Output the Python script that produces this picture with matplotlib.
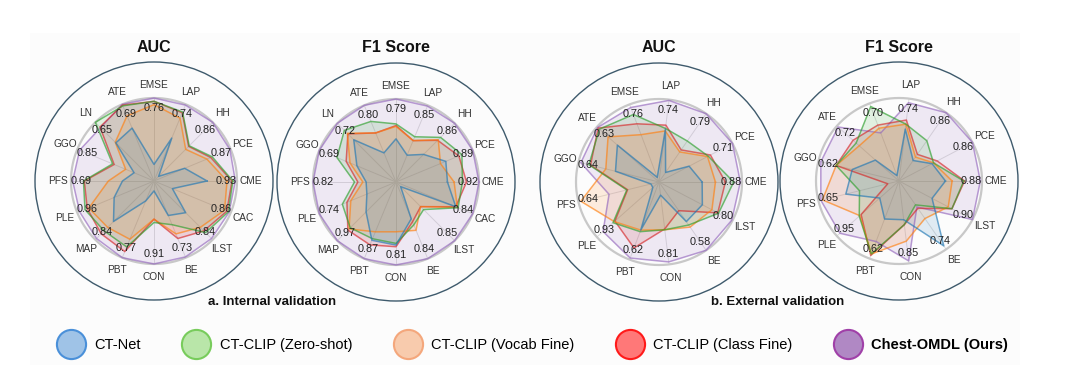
import numpy as np
import matplotlib
matplotlib.use("Agg")
import matplotlib.pyplot as plt
from matplotlib.lines import Line2D
from matplotlib.patches import Rectangle, Ellipse

plt.rcParams['font.family'] = ['Liberation Sans', 'DejaVu Sans']

# ---------------- data ----------------
int_cats = ['CME', 'PCE', 'HH', 'LAP', 'EMSE', 'ATE', 'LN', 'GGO', 'PFS', 'PLE',
            'MAP', 'PBT', 'CON', 'BE', 'ILST', 'CAC']
ext_cats = ['CME', 'PCE', 'HH', 'LAP', 'EMSE', 'ATE', 'GGO', 'PFS', 'PLE', 'PBT',
            'CON', 'BE', 'ILST']

models = ['CT-Net', 'CT-CLIP (Zero-shot)', 'CT-CLIP (Vocab Fine)',
          'CT-CLIP (Class Fine)', 'Chest-OMDL (Ours)']

# (a) internal AUC
int_auc_labels = [0.93, 0.87, 0.86, 0.74, 0.76, 0.69, 0.65, 0.85, 0.69, 0.96, 0.84, 0.77, 0.91, 0.73, 0.84, 0.86]
int_auc_ctnet = [0.64, 0.40, 0.08, 0.56, 0.20, 0.69, 0.65, 0.26, 0.38, 0.52, 0.69, 0.26, 0.12, 0.45, 0.54, 0.24]
int_auc_zero = [0.95, 0.76, 0.60, 0.90, 0.96, 0.98, 1.00, 0.54, 0.85, 0.90, 0.85, 0.86, 0.50, 0.57, 0.88, 0.97]
int_auc_vocab = [0.88, 0.69, 0.54, 0.82, 0.92, 0.85, 0.66, 0.37, 0.55, 0.85, 0.79, 0.76, 0.46, 0.69, 0.79, 0.92]
int_auc_class = [0.94, 0.74, 0.59, 0.89, 0.96, 0.99, 0.92, 0.52, 0.84, 0.87, 0.90, 0.92, 0.46, 0.75, 0.85, 0.95]
int_auc_ours = [0.98, 0.99, 1.00, 0.99, 1.00, 1.00, 0.91, 0.97, 0.98, 0.97, 0.98, 1.00, 1.00, 0.99, 0.98, 0.98]

# (a) internal F1
int_f1_labels = [0.92, 0.89, 0.86, 0.85, 0.79, 0.80, 0.72, 0.69, 0.82, 0.74, 0.97, 0.87, 0.81, 0.84, 0.85, 0.84]
int_f1_ctnet = [0.62, 0.65, 0.47, 0.35, 0.52, 0.38, 0.72, 0.51, 0.36, 0.38, 0.51, 0.76, 0.76, 0.48, 0.08, 0.78]
int_f1_zero = [0.80, 0.86, 0.76, 0.59, 0.70, 0.79, 0.88, 0.77, 0.50, 0.70, 0.78, 0.74, 0.74, 0.56, 0.47, 0.81]
int_f1_vocab = [0.70, 0.58, 0.72, 0.54, 0.67, 0.64, 0.83, 0.60, 0.40, 0.59, 0.80, 0.65, 0.60, 0.63, 0.42, 0.80]
int_f1_class = [0.85, 0.82, 0.71, 0.54, 0.68, 0.64, 0.82, 0.65, 0.46, 0.64, 0.82, 0.82, 0.78, 0.52, 0.42, 0.78]
int_f1_ours = [1.00, 1.00, 1.00, 0.99, 1.00, 1.00, 1.00, 1.00, 1.00, 1.00, 1.00, 1.00, 1.00, 1.00, 1.00, 1.00]

# (b) external AUC
ext_auc_labels = [0.88, 0.71, 0.79, 0.74, 0.76, 0.63, 0.64, 0.64, 0.93, 0.62, 0.81, 0.58, 0.80]
ext_auc_ctnet = [0.52, 0.41, 0.14, 0.64, 0.06, 0.67, 0.54, 0.10, 0.10, 0.62, 0.16, 0.58, 0.59]
ext_auc_zero = [0.90, 0.67, 0.60, 0.65, 0.87, 0.96, 0.87, 0.40, 0.74, 0.64, 0.58, 0.63, 0.81]
ext_auc_vocab = [0.68, 0.66, 0.44, 0.62, 0.61, 0.82, 0.66, 0.97, 0.72, 0.62, 0.58, 0.66, 0.72]
ext_auc_class = [0.80, 0.70, 0.47, 0.69, 0.75, 0.98, 0.85, 0.39, 0.71, 0.85, 0.57, 0.42, 0.80]
ext_auc_ours = [0.98, 1.00, 1.00, 0.99, 0.96, 0.99, 0.97, 0.62, 0.90, 0.98, 0.97, 1.00, 0.99]

# (b) external F1
ext_f1_labels = [0.88, 0.86, 0.86, 0.74, 0.70, 0.72, 0.62, 0.65, 0.95, 0.62, 0.85, 0.74, 0.90]
ext_f1_ctnet = [0.56, 0.45, 0.30, 0.63, 0.07, 0.38, 0.58, 0.66, 0.31, 0.49, 0.47, 0.95, 0.45]
ext_f1_zero = [0.78, 0.47, 0.59, 0.69, 0.96, 0.69, 0.78, 0.49, 0.64, 0.94, 0.53, 0.35, 0.72]
ext_f1_vocab = [0.64, 0.47, 0.35, 0.69, 0.68, 0.64, 0.78, 0.95, 0.63, 0.94, 0.73, 0.55, 0.67]
ext_f1_class = [0.79, 0.52, 0.39, 0.74, 0.72, 0.74, 0.78, 0.14, 0.61, 0.96, 0.53, 0.40, 0.72]
ext_f1_ours = [0.98, 1.00, 1.00, 0.95, 0.62, 0.98, 0.97, 0.97, 0.95, 0.78, 0.97, 0.38, 1.00]

line_colors = ['#1f77b4', '#2ca02c', '#ff7f0e', '#d62728', '#9467bd']
leg_face = ['#9fc3e7', '#b9e6a9', '#f8cbad', '#ff7878', '#b088c4']
leg_edge = ['#4a90d9', '#78cc5c', '#f4a77c', '#ff1a1a', '#a040a8']

panels = [
    dict(title='AUC', cx=154, cy=181, cats=int_cats, labels=int_auc_labels,
         series=[int_auc_ctnet, int_auc_zero, int_auc_vocab, int_auc_class, int_auc_ours]),
    dict(title='F1 Score', cx=396, cy=182, cats=int_cats, labels=int_f1_labels,
         series=[int_f1_ctnet, int_f1_zero, int_f1_vocab, int_f1_class, int_f1_ours]),
    dict(title='AUC', cx=659, cy=182, cats=ext_cats, labels=ext_auc_labels,
         series=[ext_auc_ctnet, ext_auc_zero, ext_auc_vocab, ext_auc_class, ext_auc_ours]),
    dict(title='F1 Score', cx=899, cy=181, cats=ext_cats, labels=ext_f1_labels,
         series=[ext_f1_ctnet, ext_f1_zero, ext_f1_vocab, ext_f1_class, ext_f1_ours]),
]

W, H = 1080, 372
fig = plt.figure(figsize=(W / 100, H / 100), dpi=100)
fig.patch.set_facecolor('white')
fig.patches.append(Rectangle((30 / W, 7 / H), 990 / W, 332 / H, transform=fig.transFigure,
                             facecolor='#fcfcfc', edgecolor='none', zorder=-10))

R_GRID = 83.0
R_OUT = 119.0
rmax = R_OUT / R_GRID

for p in panels:
    cx, cy = p['cx'], p['cy']
    # outer dark circle
    fig.patches.append(Ellipse((cx / W, 1 - cy / H), 2 * R_OUT / W, 2 * R_OUT / H,
                               transform=fig.transFigure, facecolor='none',
                               edgecolor='#3e5a6c', lw=1.0, zorder=-5))
    ax = fig.add_axes([(cx - R_OUT) / W, (H - cy - R_OUT) / H, 2 * R_OUT / W, 2 * R_OUT / H],
                      projection='polar')
    ax.set_ylim(0, rmax)
    ax.set_axis_off()

    n = len(p['cats'])
    ang = np.linspace(0, 2 * np.pi, n, endpoint=False)
    # spokes and reference ring
    for a in ang:
        ax.plot([a, a], [0, 1.0], color='#dcdcdc', lw=0.7, zorder=1)
    tt = np.linspace(0, 2 * np.pi, 721)
    ax.plot(tt, np.ones_like(tt), color='#c8c8c8', lw=1.6, zorder=1)

    closed = np.append(ang, ang[0])
    order = [4, 3, 2, 1, 0]
    for i in order:
        vals = np.array(p['series'][i], dtype=float)
        v = np.append(vals, vals[0])
        ax.fill(closed, v, color=line_colors[i], alpha=0.13, zorder=2 + (4 - i) * 0.1, lw=0)
        ax.plot(closed, v, color=line_colors[i], alpha=0.65, lw=1.1, zorder=3 + (4 - i) * 0.1)

    for a, c, lab in zip(ang, p['cats'], p['labels']):
        ax.text(a, 1.16, c, ha='center', va='center', fontsize=7.3, color='#333333', zorder=6)
        ax.text(a, 0.875, f'{lab:.2f}', ha='center', va='center', fontsize=7.8,
                color='#222222', zorder=6)

    fig.text(cx / W, 1 - 47 / H, p['title'], ha='center', va='center',
             fontsize=11.5, fontweight='bold', color='#111111')

fig.text(272 / W, 1 - 302 / H, 'a. Internal validation', ha='center', va='center',
         fontsize=9.5, fontweight='bold', color='#111111')
fig.text(778 / W, 1 - 302 / H, 'b. External validation', ha='center', va='center',
         fontsize=9.5, fontweight='bold', color='#111111')

handles = [Line2D([], [], ls='', marker='o', markersize=21, markerfacecolor=leg_face[i],
                  markeredgecolor=leg_edge[i], markeredgewidth=1.5) for i in range(5)]
leg = fig.legend(handles, models, loc='center', bbox_to_anchor=(535 / W, 1 - 345 / H),
                 ncol=5, frameon=False, fontsize=10.5, columnspacing=3.2, handletextpad=1.0,
                 handlelength=1.2)
leg.get_texts()[4].set_fontweight('bold')

fig.savefig('out.png', dpi=100, facecolor='white')
